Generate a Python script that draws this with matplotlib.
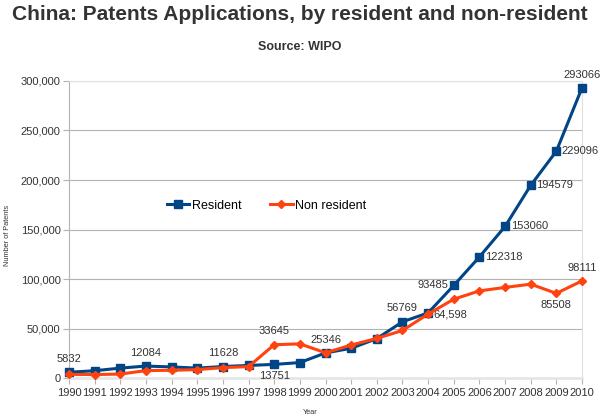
import matplotlib
matplotlib.use("Agg")
import matplotlib.pyplot as plt
from matplotlib.ticker import FuncFormatter

plt.rcParams['font.family'] = ['Liberation Sans', 'DejaVu Sans']

years = list(range(1990, 2011))
resident = [5832, 7372, 10011, 12084, 11191, 10011, 11628, 12713, 13751, 15596,
            25346, 30038, 39806, 56769, 65786, 93485, 122318, 153060, 194579,
            229096, 293066]
non_resident = [3700, 3500, 4000, 7500, 7800, 8500, 10500, 11500, 33645, 34500,
                25500, 33300, 40000, 48000, 64598, 79600, 88000, 91500, 94800,
                85508, 98111]

# labels shown on the chart: (year, series, text, placement)
labels = [
    (1990, "r", "5832", "above"),
    (1993, "r", "12084", "above"),
    (1996, "r", "11628", "above"),
    (1998, "n", "33645", "above"),
    (1998, "r", "13751", "below"),
    (2000, "r", "25346", "above"),
    (2003, "r", "56769", "above"),
    (2004, "n", "64,598", "right"),
    (2005, "r", "93485", "left"),
    (2006, "r", "122318", "right"),
    (2007, "r", "153060", "right"),
    (2008, "r", "194579", "right"),
    (2009, "r", "229096", "right"),
    (2010, "r", "293066", "above"),
    (2010, "n", "98111", "above"),
    (2009, "n", "85508", "below"),
]

blue = "#004586"
orange = "#ff420e"
txt = "#333333"

fig = plt.figure(figsize=(6, 4.16), dpi=100)
ax = fig.add_axes([0.115, 0.0913, 0.855, 0.714])

ax.plot(years, resident, color=blue, lw=2.2, marker="s", ms=6,
        label="Resident", clip_on=False, zorder=3)
ax.plot(years, non_resident, color=orange, lw=2.2, marker="D", ms=4,
        label="Non resident", clip_on=False, zorder=4)

ax.set_xlim(1990, 2010)
ax.set_ylim(0, 300000)
ax.set_xticks(years)
ax.set_yticks(range(0, 300001, 50000))
ax.yaxis.set_major_formatter(FuncFormatter(lambda v, p: f"{int(v):,}"))
ax.grid(axis="y", color="#b3b3b3", lw=0.8)
ax.set_axisbelow(True)

for s in ["top", "right"]:
    ax.spines[s].set_color("#e0e0e0")
ax.spines["left"].set_color("#b3b3b3")
ax.spines["bottom"].set_color("#e6e6e6")
ax.spines["bottom"].set_linewidth(2)
ax.tick_params(axis="both", labelsize=8, colors="#b3b3b3", labelcolor=txt, length=4, pad=2)
ax.tick_params(axis="x", pad=3)

series = {"r": resident, "n": non_resident}
for yr, key, t, pos in labels:
    v = series[key][yr - 1990]
    if pos == "above":
        ax.annotate(t, (yr, v), xytext=(0, 6), textcoords="offset points",
                    ha="center", va="bottom", fontsize=8, color=txt)
    elif pos == "below":
        ax.annotate(t, (yr, v), xytext=(0, -5), textcoords="offset points",
                    ha="center", va="top", fontsize=8, color=txt)
    elif pos == "right":
        ax.annotate(t, (yr, v), xytext=(4, 0), textcoords="offset points",
                    ha="left", va="center", fontsize=8, color=txt)
    else:
        ax.annotate(t, (yr, v), xytext=(-4, 0), textcoords="offset points",
                    ha="right", va="center", fontsize=8, color=txt)

ax.legend(loc="center", bbox_to_anchor=(0.385, 0.58), ncol=2, frameon=False,
          fontsize=9, handlelength=1.8, handletextpad=0.2, columnspacing=2.3)

fig.text(0.5, 0.965, "China: Patents Applications, by resident and non-resident",
         ha="center", va="center", fontsize=15, fontweight="bold", color=txt)
fig.text(0.5, 0.887, "Source: WIPO", ha="center", va="center",
         fontsize=9, fontweight="bold", color=txt)
fig.text(0.013, 0.435, "Number of Patents", rotation=90, ha="center", va="center",
         fontsize=5.3, color=txt)
fig.text(0.517, 0.008, "Year", ha="center", va="center", fontsize=5.3, color=txt)

fig.savefig("out.png", dpi=100)
